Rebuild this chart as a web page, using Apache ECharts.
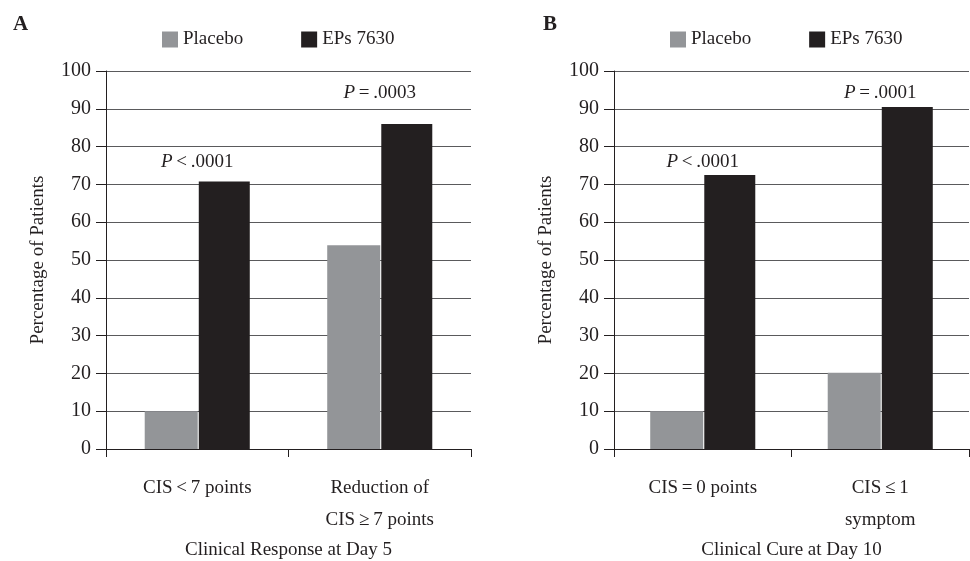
<!DOCTYPE html>
<html>
<head>
<meta charset="utf-8">
<script src="https://cdn.jsdelivr.net/npm/echarts@6/dist/echarts.min.js"></script>
<style>html,body{margin:0;padding:0;background:#fff}#c{width:970px;height:561px}</style>
</head>
<body>
<div id="c"></div>
<script>
// ---- data ----
const seriesNames = ['Placebo', 'EPs 7630'];
const catsA = ['CIS\u2009<\u20097 points', 'Reduction of\nCIS\u2009\u2265\u20097 points'];
const placeboA = [10, 53.9];
const epsA = [70.8, 86.0];
const pTextA = ['P\u2009<\u2009.0001', 'P\u2009=\u2009.0003'];
const pPosA = [75.8, 94.2];
const xTitleA = 'Clinical Response at Day 5';

const catsB = ['CIS\u2009=\u20090 points', 'CIS\u2009\u2264\u20091\nsymptom'];
const placeboB = [10, 20.2];
const epsB = [72.5, 90.5];
const pTextB = ['P\u2009<\u2009.0001', 'P\u2009=\u2009.0001'];
const pPosB = [75.8, 94.2];
const xTitleB = 'Clinical Cure at Day 10';

const yTicks = [0, 100, 10];
const yTitle = 'Percentage of Patients';
// ---------------

const FONT = '"Liberation Serif", "DejaVu Serif", serif';
const TXT = '#231f20';
const C_PL = '#939598', C_EP = '#231f20';

function xAxis(idx, cats, title) {
  return {
    type: 'category', gridIndex: idx, data: cats,
    name: title, nameLocation: 'middle', nameGap: 92,
    nameTextStyle: {fontFamily: FONT, fontSize: 19, color: TXT},
    axisLine: {lineStyle: {color: '#231f20', width: 1}},
    axisTick: {show: true, length: 8, inside: false, lineStyle: {color: '#231f20'}},
    axisLabel: {fontFamily: FONT, fontSize: 19, color: TXT, margin: 23, lineHeight: 32, interval: 0}
  };
}
function yAxis(idx) {
  return {
    type: 'value', gridIndex: idx, min: yTicks[0], max: yTicks[1], interval: yTicks[2],
    name: yTitle, nameLocation: 'middle', nameGap: 58, nameRotate: 90,
    nameTextStyle: {fontFamily: FONT, fontSize: 19, color: TXT},
    axisLine: {show: true, lineStyle: {color: '#231f20', width: 1}},
    axisTick: {show: true, length: 10, inside: false, lineStyle: {color: '#231f20'}},
    axisLabel: {fontFamily: FONT, fontSize: 20, color: TXT, margin: 15},
    splitLine: {show: true, lineStyle: {color: '#5a5a5c', width: 1.2}}
  };
}
function pSeries(idx, cats, txt, pos) {
  return {
    type: 'scatter', xAxisIndex: idx, yAxisIndex: idx, symbolSize: 1, silent: true,
    itemStyle: {color: 'rgba(0,0,0,0)', opacity: 1},
    data: cats.map((c, i) => ({value: [i, pos[i]], name: txt[i]})),
    label: {
      show: true, position: 'inside',
      formatter: p => '{i|P}{n|' + p.name.slice(1) + '}',
      color: TXT, opacity: 1,
      rich: {
        i: {fontFamily: FONT, fontSize: 19, fontStyle: 'italic', color: TXT},
        n: {fontFamily: FONT, fontSize: 19, color: TXT}
      }
    },
    z: 5
  };
}
function bars(idx, pl, ep) {
  return [
    {name: seriesNames[0], type: 'bar', xAxisIndex: idx, yAxisIndex: idx, data: pl,
     barWidth: 53, barGap: '2%', itemStyle: {color: C_PL}},
    {name: seriesNames[1], type: 'bar', xAxisIndex: idx, yAxisIndex: idx, data: ep,
     barWidth: 51, barGap: '2%', itemStyle: {color: C_EP}}
  ];
}
function legend(left) {
  return {
    data: seriesNames, left: left, top: 25, itemWidth: 16, itemHeight: 16, itemGap: 58,
    icon: 'rect', selectedMode: false,
    textStyle: {fontFamily: FONT, fontSize: 19, color: TXT}
  };
}

const chart = echarts.init(document.getElementById('c'), null, {renderer: 'canvas'});
chart.setOption({
  animation: false,
  backgroundColor: '#fff',
  title: [
    {text: 'A', left: 8, top: 9, textStyle: {fontFamily: FONT, fontSize: 21, fontWeight: 'bold', color: TXT}},
    {text: 'B', left: 538, top: 9, textStyle: {fontFamily: FONT, fontSize: 21, fontWeight: 'bold', color: TXT}}
  ],
  legend: [legend(157), legend(665)],
  grid: [
    {left: 106, right: 499, top: 71, bottom: 112, containLabel: false, outerBoundsMode: 'none'},
    {left: 614, right: 1, top: 71, bottom: 112, containLabel: false, outerBoundsMode: 'none'}
  ],
  xAxis: [xAxis(0, catsA, xTitleA), xAxis(1, catsB, xTitleB)],
  yAxis: [yAxis(0), yAxis(1)],
  series: [
    ...bars(0, placeboA, epsA),
    ...bars(1, placeboB, epsB),
    pSeries(0, catsA, pTextA, pPosA),
    pSeries(1, catsB, pTextB, pPosB)
  ]
});
</script>
</body>
</html>
